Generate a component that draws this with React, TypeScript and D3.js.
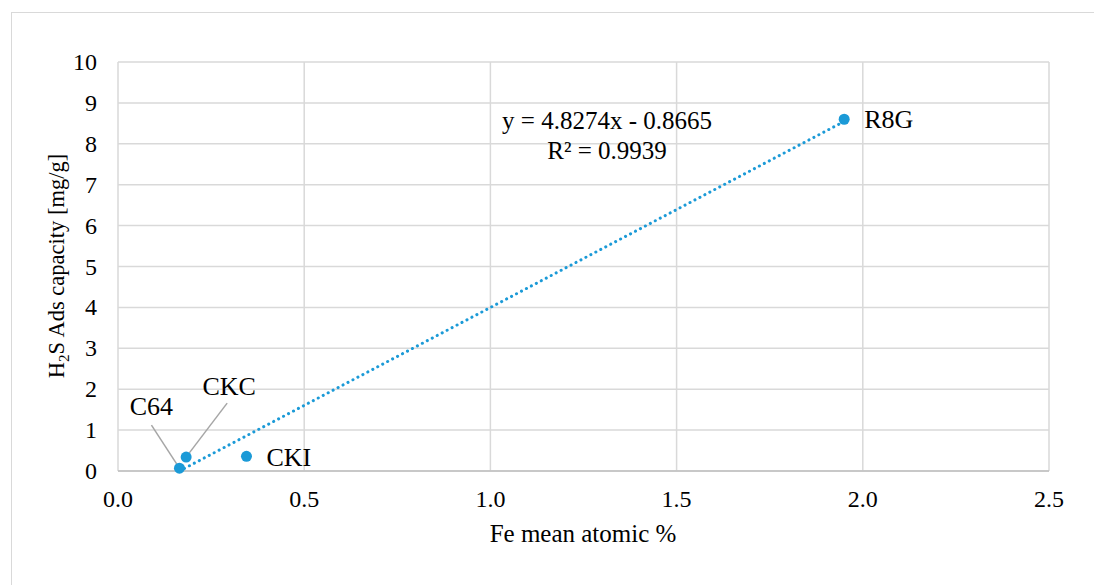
import React from "react";
import * as d3 from "d3";

const sampleNames = ["C64", "CKC", "CKI", "R8G"];
const feAtomic = [0.165, 0.183, 0.345, 1.95];
const h2sCapacity = [0.07, 0.34, 0.36, 8.6];
const xTicks = [0, 0.5, 1.0, 1.5, 2.0, 2.5];
const yTicks = [0, 1, 2, 3, 4, 5, 6, 7, 8, 9, 10];
const slope = 4.8274;
const intercept = -0.8665;

const W = 1094, H = 585;
const left = 118, right = 1049, top = 62, bottom = 471;
const blue = "#1b9ad7";
const font = "'Liberation Serif', 'Times New Roman', serif";

export default function App() {
  const x = d3.scaleLinear().domain([0, 2.5]).range([left, right]);
  const y = d3.scaleLinear().domain([0, 10]).range([bottom, top]);
  const xmin = d3.min(feAtomic)!, xmax = d3.max(feAtomic)!;
  const trend = d3.line<number>().x(d => x(d)).y(d => y(Math.max(0, slope * d + intercept)));
  const trendPts = [xmin, xmax];
  const labelPos: Record<string, { dx: number; dy: number; anchor: string; leader?: [number, number, number, number] }> = {
    C64: { dx: -28, dy: -53, anchor: "middle", leader: [-28, -43, -2, -3] },
    CKC: { dx: 43, dy: -62, anchor: "middle", leader: [41, -54, 3, -4] },
    CKI: { dx: 20, dy: 10, anchor: "start" },
    R8G: { dx: 20, dy: 9, anchor: "start" },
  };
  return (
    <svg width={W} height={H} style={{ position: "absolute", left: 0, top: 0, background: "#fff" }}>
      <rect x={0} y={0} width={W} height={H} fill="#fff" />
      <rect x={11.5} y={12.5} width={W + 10} height={H + 10} fill="#fff" stroke="#d9d9d9" strokeWidth={1} />
      {yTicks.map(t => (
        <line key={"gy" + t} x1={left} x2={right} y1={y(t)} y2={y(t)} stroke="#d9d9d9" strokeWidth={1.5} />
      ))}
      {xTicks.map(t => (
        <line key={"gx" + t} x1={x(t)} x2={x(t)} y1={top} y2={bottom} stroke="#d9d9d9" strokeWidth={1.5} />
      ))}
      <line x1={left} x2={right} y1={bottom} y2={bottom} stroke="#bfbfbf" strokeWidth={1.5} />
      {yTicks.map(t => (
        <text key={"ty" + t} x={left - 21} y={y(t) + 8} textAnchor="end" fontFamily={font} fontSize={24} fill="#000">{t}</text>
      ))}
      {xTicks.map(t => (
        <text key={"tx" + t} x={x(t)} y={bottom + 36} textAnchor="middle" fontFamily={font} fontSize={24} fill="#000">{t.toFixed(1)}</text>
      ))}
      <text x={583} y={542} textAnchor="middle" fontFamily={font} fontSize={25} fill="#000">Fe mean atomic %</text>
      <text transform={`translate(64,${266}) rotate(-90)`} textAnchor="middle" fontFamily={font} fontSize={22.5} fill="#000">
        H<tspan baselineShift="-30%" fontSize={15}>2</tspan>S Ads capacity [mg/g]
      </text>
      <path d={trend(trendPts) ?? ""} fill="none" stroke={blue} strokeWidth={3} strokeDasharray="0.1 5.5" strokeLinecap="round" />
      {sampleNames.map((n, i) => {
        const px = x(feAtomic[i]), py = y(h2sCapacity[i]);
        const lp = labelPos[n];
        return (
          <g key={n}>
            {lp.leader && (
              <line x1={px + lp.leader[0]} y1={py + lp.leader[1]} x2={px + lp.leader[2]} y2={py + lp.leader[3]} stroke="#a6a6a6" strokeWidth={1.5} />
            )}
            <circle cx={px} cy={py} r={5.5} fill={blue} />
            <text x={px + lp.dx} y={py + lp.dy} textAnchor={lp.anchor} fontFamily={font} fontSize={26} fill="#000">{n}</text>
          </g>
        );
      })}
      <text x={607} y={129} textAnchor="middle" fontFamily={font} fontSize={25} fill="#000">y = 4.8274x - 0.8665</text>
      <text x={607} y={159} textAnchor="middle" fontFamily={font} fontSize={25} fill="#000">R² = 0.9939</text>
    </svg>
  );
}
